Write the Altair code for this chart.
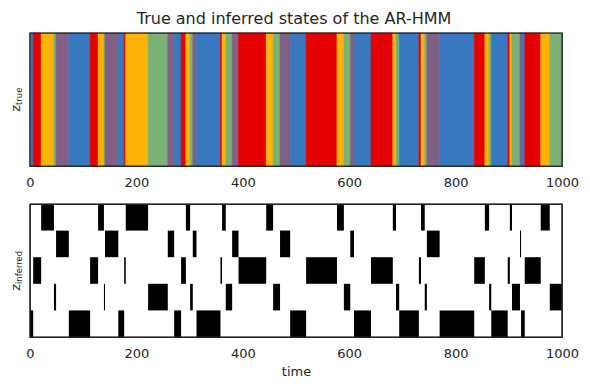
import altair as alt
import pandas as pd

# segment boundaries (time steps)
seg_start = [0, 6, 21, 45, 49, 73, 113, 128, 139, 141,
             166, 177, 180, 222, 259, 271, 284, 293, 301, 306,
             313, 358, 361, 368, 380, 392, 444, 457, 470, 489,
             519, 577, 590, 602, 609, 641, 682, 688, 694, 731,
             735, 742, 746, 770, 835, 855, 863, 867, 898, 902,
             906, 921, 923, 930, 960, 977]
seg_end = seg_start[1:] + [1000]

# true state index per segment (0 blue, 1 red, 2 amber, 3 green, 4 purple)
true_state = [0, 1, 2, 3, 4, 0, 1, 2, 3, 4,
              0, 1, 2, 3, 4, 0, 1, 2, 3, 4,
              0, 1, 2, 3, 4, 1, 2, 3, 4, 0,
              1, 2, 3, 4, 0, 1, 2, 3, 0, 1,
              2, 3, 4, 0, 1, 2, 3, 0, 1, 2,
              3, 4, 0, 1, 2, 3]

# inferred state (row of the one-hot image, 0 = top) per segment
inferred_state = [4, 2, 0, 3, 1, 4, 2, 0, 3, 1,
                  4, 2, 0, 3, 1, 4, 2, 0, 3, 1,
                  4, 2, 0, 3, 1, 2, 0, 3, 1, 4,
                  2, 0, 3, 1, 4, 2, 0, 3, 4, 2,
                  0, 3, 1, 4, 2, 0, 3, 4, 2, 0,
                  3, 1, 4, 2, 0, 3]

state_ids = [0, 1, 2, 3, 4]
palette = ["#3778bf", "#e50000", "#feb308", "#7bb274", "#825f87"]
x_ticks = [0, 200, 400, 600, 800, 1000]
title_text = "True and inferred states of the AR-HMM"

W, H = 532, 133
TXT = "#262626"
FONT = "DejaVu Sans"

df = pd.DataFrame({"start": seg_start, "end": seg_end,
                   "true": true_state, "inferred": inferred_state})

xscale = alt.Scale(domain=[0, 1000], nice=False, zero=False)


def xaxis(title=None):
    kw = dict(values=x_ticks, format="d", tickSize=0, labelPadding=10,
              domain=False, grid=False, labelFontSize=13, labelFont=FONT,
              labelColor=TXT, labelFlush=False)
    if title is not None:
        kw.update(title=title, titleFontSize=13, titleFont=FONT,
                  titleColor=TXT, titleFontWeight="normal", titlePadding=5)
    else:
        kw.update(title=None)
    return alt.Axis(**kw)


def ylabel(main, sub, join_y):
    a = alt.Chart(pd.DataFrame({"t": [main]})).mark_text(
        angle=270, align="right", baseline="alphabetic", fontSize=13,
        font=FONT, color=TXT).encode(
        text="t:N", x=alt.value(-10.5), y=alt.value(join_y))
    b = alt.Chart(pd.DataFrame({"t": [sub]})).mark_text(
        angle=270, align="left", baseline="alphabetic", fontSize=8.5,
        font=FONT, color=TXT).encode(
        text="t:N", x=alt.value(-8.3), y=alt.value(join_y))
    return a + b


def frame():
    # axes frame drawn over the image
    return alt.Chart(pd.DataFrame({"f": [0]})).mark_rect(
        filled=False, stroke=TXT, strokeWidth=1.25).encode(
        x=alt.value(0), x2=alt.value(W), y=alt.value(0), y2=alt.value(H))


cscale = alt.Scale(domain=state_ids, range=palette)

top_rect = alt.Chart(df).mark_rect(strokeWidth=0.6).encode(
    x=alt.X("start:Q", scale=xscale, axis=xaxis()),
    x2="end:Q",
    color=alt.Color("true:N", scale=cscale, legend=None),
    stroke=alt.Stroke("true:N", scale=cscale, legend=None),
)
top = alt.layer(top_rect, frame(), ylabel("z", "true", 72)).properties(
    width=W, height=H)

bot_rect = alt.Chart(df).mark_rect(color="black").encode(
    x=alt.X("start:Q", scale=xscale, axis=xaxis("time")),
    x2="end:Q",
    y=alt.Y("inferred:O", scale=alt.Scale(domain=state_ids, paddingInner=0,
                                          paddingOuter=0), axis=None),
)
bot = alt.layer(bot_rect, frame(), ylabel("z", "inferred", 80)).properties(
    width=W, height=H)

chart = alt.vconcat(top, bot, spacing=12).properties(
    title=alt.TitleParams(title_text, fontSize=16, font=FONT,
                          fontWeight="normal", color=TXT, anchor="middle",
                          offset=5),
    padding={"left": 0, "top": 2, "right": 0, "bottom": 0},
    background="white",
).configure_view(stroke=TXT, strokeWidth=1.25, fill="white")

chart.save("out.html", embed_options={"renderer": "svg", "actions": False})
